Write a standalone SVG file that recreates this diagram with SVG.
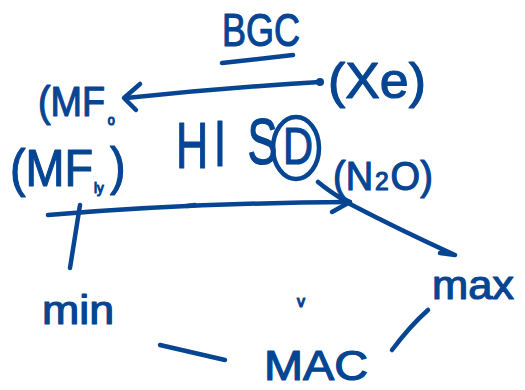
<svg xmlns="http://www.w3.org/2000/svg" width="525" height="390" viewBox="0 0 525 390">
<style>
text{font-family:"Liberation Sans",Arial,sans-serif;fill:#064592;stroke:#064592;stroke-width:1.2;stroke-linejoin:round}
.s{fill:none;stroke:#064592;stroke-width:4.5;stroke-linecap:round;stroke-linejoin:round}
</style>
<rect width="525" height="390" fill="#fff"/>
<g id="title">
<text x="222" y="46" font-size="46" textLength="78" lengthAdjust="spacingAndGlyphs">BGC</text>
<path class="s" d="M222 63 Q258 59 293 55"/>
</g>
<g id="mf-top">
<text transform="translate(38,116) scale(0.9,1)" font-size="42">(MF<tspan dx="3" dy="9" font-size="14">o</tspan></text>
</g>
<g id="mf-bottom">
<text transform="translate(10,186) scale(0.9,1)" font-size="52">(MF<tspan dx="1" dy="7" font-size="15">ly</tspan><tspan dx="7" dy="-9">)</tspan></text>
</g>
<g id="hisd">
<text transform="translate(176,168) scale(0.7,1)" font-size="64"><tspan x="0">H</tspan><tspan x="54" dy="-2">I</tspan><tspan x="102" dy="-2">S</tspan></text>
<text x="283" y="164" font-size="52" textLength="30" lengthAdjust="spacingAndGlyphs">D</text>
<ellipse class="s" cx="296" cy="148" rx="23" ry="31"/>
</g>
<g id="xe">
<text x="328" y="98" font-size="50" textLength="98" lengthAdjust="spacingAndGlyphs">(Xe)</text>
</g>
<g id="n2o">
<text transform="translate(333,190) scale(0.95,1)" font-size="40">(N<tspan dx="2" font-size="26">2</tspan><tspan dx="2">O)</tspan></text>
</g>
<g id="min"><text x="42" y="324" font-size="40" textLength="72" lengthAdjust="spacingAndGlyphs">min</text></g>
<g id="v"><text x="297" y="307" font-size="16">v</text></g>
<g id="max"><text x="432" y="299" font-size="40" textLength="82" lengthAdjust="spacingAndGlyphs">max</text></g>
<g id="mac"><text x="264" y="380" font-size="42" textLength="104" lengthAdjust="spacingAndGlyphs">MAC</text></g>
<g id="connectors">
<path class="s" d="M320 82 Q220 88 126 98"/>
<path class="s" d="M140 84 L124 98 L136 110"/>
<circle cx="320" cy="82" r="4" fill="#064592"/>
<path class="s" d="M48 215 Q190 203 350 202"/>
<path class="s" d="M332 212 L350 202 L338 196"/>
<path class="s" d="M80 205 L70 268"/>
<path class="s" d="M187 206 L195 205"/>
<path class="s" d="M318 182 Q330 192 350 204 Q400 230 455 255 L440 253"/>
<path class="s" d="M160 345 L225 360"/>
<path class="s" d="M392 350 Q410 326 428 310"/>
</g>
</svg>
